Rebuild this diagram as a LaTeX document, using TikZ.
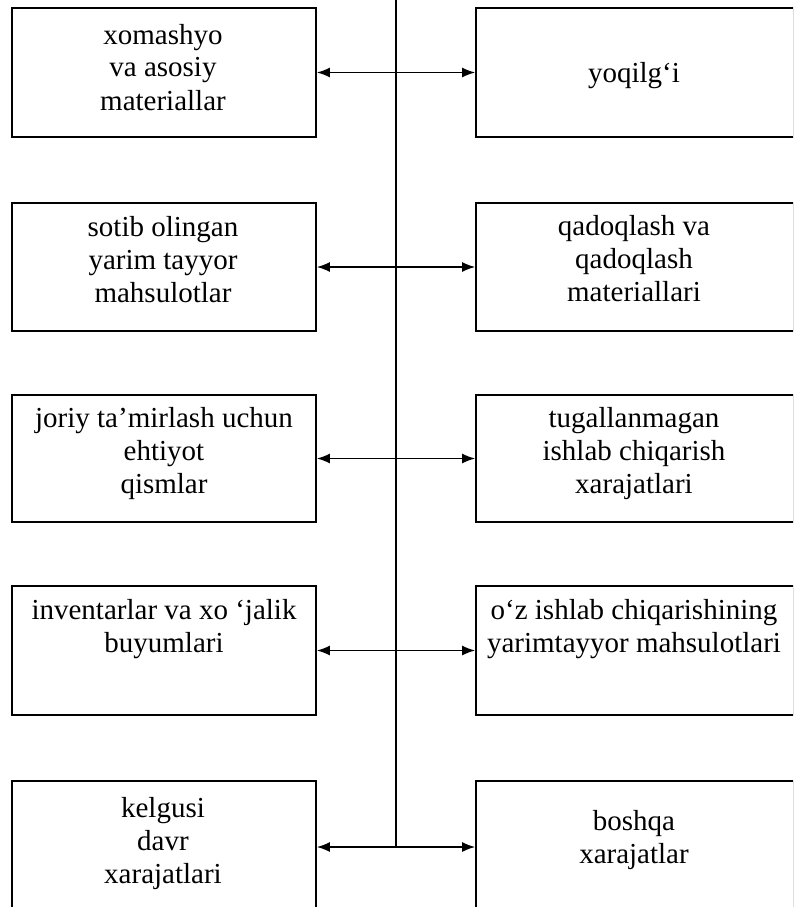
\documentclass[tikz,border=0pt]{standalone}
\usepackage{fontspec}
\setmainfont{Liberation Serif}
\usetikzlibrary{arrows.meta}
\begin{document}
\begin{tikzpicture}[x=1pt,y=-1pt,
  box/.style={draw,line width=1.6pt,rectangle,inner sep=0pt},
  lbox/.style={box,minimum width=304pt},
  rbox/.style={box,minimum width=318pt},
  txt/.style={align=center,inner sep=0pt,anchor=base,font=\fontsize{29}{33}\selectfont},
  link/.style={line width=1.6pt,{Latex[length=13pt,width=10pt]}-{Latex[length=13pt,width=10pt]}},
  spine/.style={line width=1.6pt}]
\useasboundingbox (0,0) rectangle (793,907);
\clip (0,0) rectangle (793,907);
% boxes
\node[lbox,minimum height=129pt] (L1) at (164,72.5) {};
\node[rbox,minimum height=129pt] (R1) at (635,72.5) {};
\node[lbox,minimum height=128pt] (L2) at (164,267) {};
\node[rbox,minimum height=128pt] (R2) at (635,267) {};
\node[lbox,minimum height=127pt] (L3) at (164,458.5) {};
\node[rbox,minimum height=127pt] (R3) at (635,458.5) {};
\node[lbox,minimum height=129pt] (L4) at (164,650.5) {};
\node[rbox,minimum height=129pt] (R4) at (635,650.5) {};
\node[lbox,minimum height=132pt] (L5) at (164,847) {};
\node[rbox,minimum height=132pt] (R5) at (635,847) {};
% texts (anchor = baseline of the last line)
\node[txt] (tL1) at (163,110) {xomashyo\\va asosiy\\materiallar};
\node[txt] (tR1) at (634,82) {yoqilg‘i};
\node[txt] (tL2) at (163,302) {sotib olingan\\yarim tayyor\\mahsulotlar};
\node[txt] (tR2) at (634,301) {qadoqlash va\\qadoqlash\\materiallari};
\node[txt] (tL3) at (164,493) {joriy ta’mirlash uchun\\ehtiyot\\qismlar};
\node[txt] (tR3) at (634,493) {tugallanmagan\\ishlab chiqarish\\xarajatlari};
\node[txt] (tL4) at (164,652) {inventarlar va xo ‘jalik\\buyumlari};
\node[txt] (tR4) at (634,652) {o‘z ishlab chiqarishining\\yarimtayyor mahsulotlari};
\node[txt] (tL5) at (163,883) {kelgusi\\davr\\xarajatlari};
\node[txt] (tR5) at (634,863) {boshqa\\xarajatlar};
% spine
\coordinate (top) at (396,-2);
\coordinate (bot) at (396,847);
\draw[spine] (top) -- (bot);
% connectors
\draw[link] (L1.east) -- (R1.west);
\draw[link] (L2.east) -- (R2.west);
\draw[link] (L3.east) -- (R3.west);
\draw[link] (L4.east) -- (R4.west);
\draw[link] (L5.east) -- (R5.west);
\end{tikzpicture}
\end{document}
